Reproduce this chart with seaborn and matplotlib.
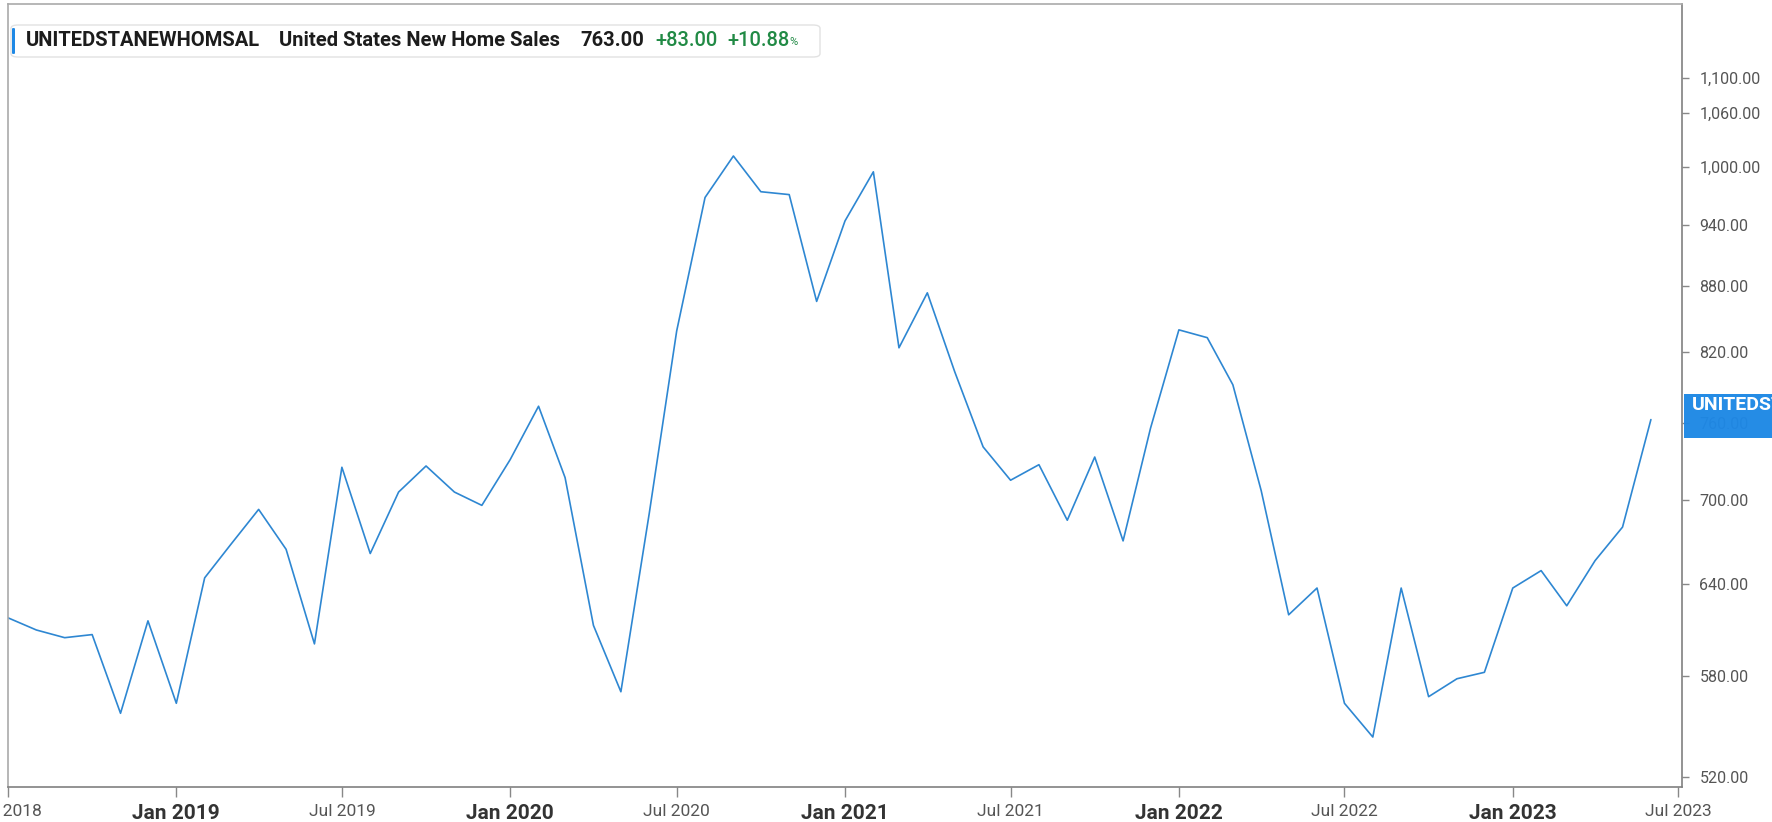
import numpy as np
import pandas as pd
import matplotlib
matplotlib.use("Agg")
import matplotlib.pyplot as plt
import matplotlib.dates as mdates
from matplotlib.ticker import FixedLocator, FuncFormatter, NullLocator
from matplotlib.patches import FancyBboxPatch, Rectangle
import seaborn as sns

# ---------------- data ----------------
months = pd.date_range("2018-07-01", "2023-06-01", freq="MS")
sales = [
    617, 609, 604, 606, 557, 615,            # Jul-Dec 2018
    563, 644, 667, 693, 664, 600,            # Jan-Jun 2019
    725, 661, 706, 726, 706, 696,            # Jul-Dec 2019
    731, 774, 717, 612, 570, 690,            # Jan-Jun 2020
    839, 968, 1012, 974, 971, 866,           # Jul-Dec 2020
    944, 995, 824, 874, 803, 741,            # Jan-Jun 2021
    715, 727, 685, 733, 670, 756,            # Jul-Dec 2021
    840, 833, 792, 707, 619, 637,            # Jan-Jun 2022
    563, 543, 637, 567, 578, 582,            # Jul-Dec 2022
    637, 649, 625, 656, 680, 763,            # Jan-Jun 2023
]
y_ticks = [520, 580, 640, 700, 760, 820, 880, 940, 1000, 1060, 1100]
x_tick_dates = pd.date_range("2018-07-01", "2023-07-01", freq="6MS")

symbol = "UNITEDSTANEWHOMSAL"
title = "United States New Home Sales"
last_value = "763.00"
change = "+83.00"
change_pct = "+10.88"

df = pd.DataFrame({"date": months, "sales": sales})

# ---------------- style ----------------
sns.set_theme(style="white")
plt.rcParams["font.family"] = ["Roboto", "DejaVu Sans"]

W, H = 1772, 822
fig = plt.figure(figsize=(W / 100, H / 100), dpi=100)
ax = fig.add_axes([8 / W, 1 - 787 / H, (1682 - 8) / W, (787 - 4) / H])

line_color = "#2E87D2"
sns.lineplot(data=df, x="date", y="sales", ax=ax, color=line_color, linewidth=1.2)

ax.set_yscale("log")
ax.set_ylim(514.7, 1191)
ax.set_xlim(pd.Timestamp("2018-07-03"), pd.Timestamp("2023-07-05"))

ax.yaxis.set_major_locator(FixedLocator(y_ticks))
ax.yaxis.set_minor_locator(NullLocator())
ax.yaxis.set_major_formatter(FuncFormatter(lambda v, p: f"{v:,.2f}"))
ax.yaxis.tick_right()
ax.tick_params(axis="y", which="major", direction="out", length=5, width=1,
               color="#888888", pad=7.5, labelsize=11.5, labelcolor="#555555",
               left=False, right=True)

ax.set_xticks(mdates.date2num(x_tick_dates))
ax.xaxis.set_minor_locator(NullLocator())
ax.set_xticklabels([d.strftime("%b %Y") for d in x_tick_dates])
ax.tick_params(axis="x", which="major", direction="out", length=7, width=1,
               color="#888888", pad=5, bottom=True)
for lbl, d in zip(ax.get_xticklabels(), x_tick_dates):
    if d.month == 1:
        lbl.set_fontsize(15)
        lbl.set_fontweight("bold")
        lbl.set_color("#333333")
    else:
        lbl.set_fontsize(12.5)
        lbl.set_color("#555555")

ax.set_xlabel("")
ax.set_ylabel("")
for side in ["left", "top"]:
    ax.spines[side].set_color("#aaaaaa")
    ax.spines[side].set_linewidth(1.2)
for side in ["right", "bottom"]:
    ax.spines[side].set_color("#808080")
    ax.spines[side].set_linewidth(1.2)
ax.grid(False)

# ---------------- header legend box ----------------
box = FancyBboxPatch((11 / W, 1 - 57 / H), (820 - 11) / W, 32 / H,
                     boxstyle="round,pad=0,rounding_size=0.004",
                     transform=fig.transFigure, facecolor="white",
                     edgecolor="#e2e2e2", linewidth=1.0, zorder=5)
fig.add_artist(box)
bar = FancyBboxPatch((12 / W, 1 - 54 / H), 3 / W, 26 / H,
                     boxstyle="round,pad=0,rounding_size=0.001",
                     transform=fig.transFigure, facecolor="#1E88E5",
                     edgecolor="none", zorder=6)
fig.add_artist(bar)

ty = 1 - 40 / H
hdr_kw = dict(transform=fig.transFigure, va="center", ha="left", zorder=7,
              fontweight="bold", fontsize=14.5)
fig.text(26 / W, ty, symbol, color="#1c1c1c", **hdr_kw)
fig.text(279 / W, ty, title, color="#1c1c1c", **hdr_kw)
fig.text(580 / W, ty, last_value, color="#1c1c1c", **hdr_kw)
fig.text(655 / W, ty, change, color="#218a45",
         **{**hdr_kw, "fontweight": "medium"})
fig.text(727 / W, ty, change_pct, color="#218a45",
         **{**hdr_kw, "fontweight": "medium"})
fig.text(789 / W, ty - 2 / H, "%", color="#218a45", transform=fig.transFigure,
         va="center", ha="left", fontsize=8, zorder=7)

# ---------------- last-value marker on right axis ----------------
tag = Rectangle((1684 / W, 1 - 438 / H), (W - 1684) / W, 44 / H,
                transform=fig.transFigure, facecolor="#1E88E5",
                edgecolor="none", alpha=0.97, zorder=8)
fig.add_artist(tag)
fig.text(1692 / W, 1 - 405 / H, symbol, transform=fig.transFigure,
         color="white", fontweight="bold", fontsize=14, va="center",
         ha="left", zorder=9)

fig.savefig("out.png", dpi=100)
